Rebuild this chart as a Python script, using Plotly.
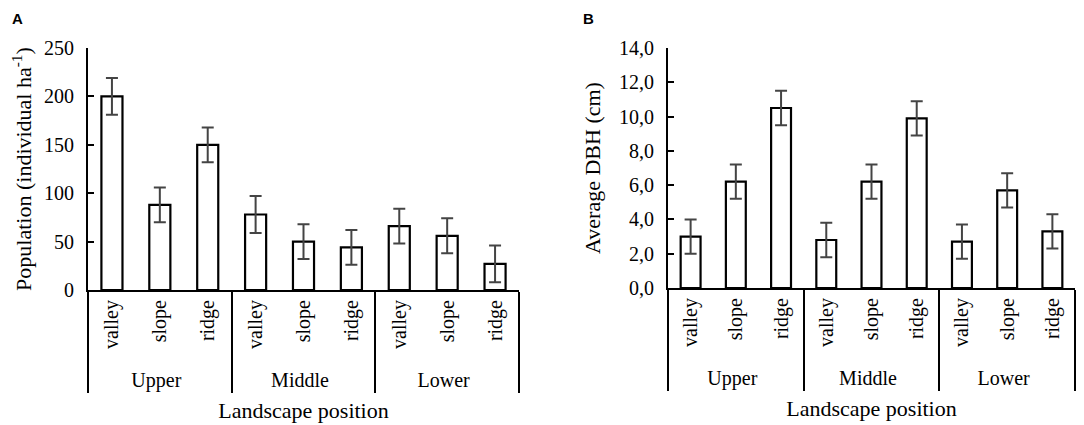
import plotly.graph_objects as go

groups = ["Upper", "Middle", "Lower"]
positions = ["valley", "slope", "ridge"]

pop_values = [200, 88, 150, 78, 50, 44, 66, 56, 27]
pop_errors = [19, 18, 18, 19, 18, 18, 18, 18, 19]

dbh_values = [3.0, 6.2, 10.5, 2.8, 6.2, 9.9, 2.7, 5.7, 3.3]
dbh_errors = [1.0, 1.0, 1.0, 1.0, 1.0, 1.0, 1.0, 1.0, 1.0]

x_outer = [g for g in groups for _ in positions]
x_inner = [p for _ in groups for p in positions]

FONT = "Liberation Serif, Times New Roman, serif"
W, H = 1084, 425
OFF = 8  # page body margin


def px_x(v):
    return (v - OFF) / W


def px_y(v):
    return 1 - (v - OFF) / H


fig = go.Figure()


def add_bars(vals, errs, xa, ya):
    fig.add_trace(go.Bar(
        x=[x_outer, x_inner], y=vals,
        xaxis=xa, yaxis=ya,
        marker=dict(color="white", line=dict(color="black", width=2.2)),
        error_y=dict(type="data", array=errs, visible=True,
                     color="#444444", thickness=2, width=6),
        showlegend=False,
    ))


add_bars(pop_values, pop_errors, "x", "y")
add_bars(dbh_values, dbh_errors, "x2", "y2")

xcommon = dict(
    type="multicategory", showline=True, linecolor="black", linewidth=2,
    showgrid=False, zeroline=False, ticks="", tickangle=-90,
    tickfont=dict(family=FONT, size=20, color="black"),
    showdividers=True, dividercolor="black", dividerwidth=2,
    title_font=dict(family=FONT, size=22, color="black"),
    automargin=False,
)
ycommon = dict(
    showline=True, linecolor="black", linewidth=2, showgrid=False,
    zeroline=False, ticks="inside", ticklen=6, tickwidth=2, tickcolor="black",
    tickfont=dict(family=FONT, size=20, color="black"),
    title_font=dict(family=FONT, size=22, color="black"),
    automargin=False, ticklabelstandoff=8,
)

fig.update_layout(
    width=W, height=H,
    margin=dict(l=0, r=0, t=0, b=0),
    paper_bgcolor="white", plot_bgcolor="white",
    font=dict(family=FONT, color="black"),
    separators=", ",
    bargap=0.56,
    xaxis=dict(xcommon, domain=[px_x(88), px_x(519)], anchor="y",
               title=dict(text="Landscape position", standoff=12)),
    yaxis=dict(ycommon, domain=[px_y(290), px_y(48)], anchor="x", range=[0, 250],
               dtick=50, tickformat="d",
               title=dict(text="Population (individual ha<sup>-1</sup>)", standoff=10)),
    xaxis2=dict(xcommon, domain=[px_x(668), px_x(1075)], anchor="y2",
                title=dict(text="Landscape position", standoff=12)),
    yaxis2=dict(ycommon, domain=[px_y(288), px_y(48)], anchor="x2", range=[0, 14],
                dtick=2, tickformat=".1f",
                title=dict(text="Average DBH (cm)", standoff=12)),
    annotations=[
        dict(text="<b>A</b>", x=px_x(10), y=px_y(8), xref="paper", yref="paper",
             xanchor="left", yanchor="top", showarrow=False,
             font=dict(family="Liberation Sans", size=15, color="black")),
        dict(text="<b>B</b>", x=px_x(581), y=px_y(8), xref="paper", yref="paper",
             xanchor="left", yanchor="top", showarrow=False,
             font=dict(family="Liberation Sans", size=15, color="black")),
    ],
)

fig.write_html("out.html")
